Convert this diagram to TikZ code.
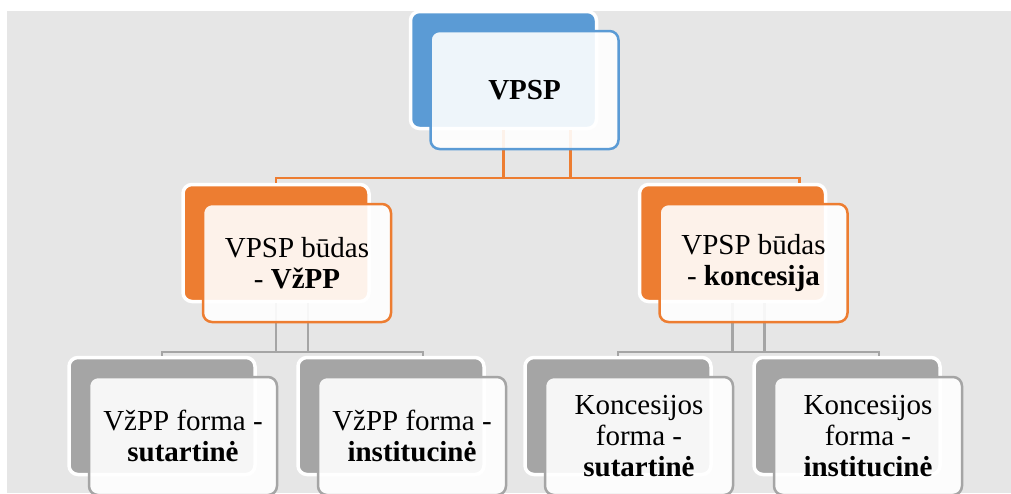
\documentclass[tikz,border=0pt]{standalone}
\usepackage{fontspec}
\setmainfont{Liberation Serif}
\usetikzlibrary{positioning}
\definecolor{vblue}{HTML}{5B9BD5}
\definecolor{vorange}{HTML}{ED7D31}
\definecolor{vgray}{HTML}{A5A5A5}
\definecolor{vbg}{HTML}{E6E6E6}
\tikzset{
  backbox/.style={draw=white, line width=3.5pt, rounded corners=9pt,
    minimum width=186pt, minimum height=117pt, inner sep=0pt},
  frontbox/.style={fill=white, fill opacity=0.9, text opacity=1,
    line width=2.5pt, rounded corners=9pt, minimum width=188pt,
    minimum height=118pt, inner sep=0pt, align=center,
    font=\fontsize{29}{31}\selectfont},
  link/.style={line width=2.5pt}
}

\begin{document}
\begin{tikzpicture}[x=1pt,y=-1pt]

  \useasboundingbox (0,0) rectangle (1011,493);
  \fill[vbg] (7,11) rectangle (1011,493);

  % back boxes
  \node[backbox, fill=vblue]   (vpspB) at (503.5,70) {};
  \node[backbox, fill=vorange] (vzppB) at (276,243) {};
  \node[backbox, fill=vorange] (koncB) at (732.5,243) {};
  \node[backbox, fill=vgray] (vsutB)  at (162,416) {};
  \node[backbox, fill=vgray] (vinstB) at (391,416) {};
  \node[backbox, fill=vgray] (ksutB)  at (618,416) {};
  \node[backbox, fill=vgray] (kinstB) at (847,416) {};

  \coordinate (obus) at (0,178);
  \coordinate (gbus) at (0,352);

  % connectors
  \draw[link, vorange] (vpspB.south) -- (vpspB.south |- obus);
  \draw[link, vorange] ([xshift=67pt]vpspB.south) -- ([xshift=67pt]vpspB.south |- obus);
  \draw[link, vorange] (vzppB.north) |- ([xshift=67pt]koncB.north |- obus)
    -- ([xshift=67pt]koncB.north);

  \draw[link, vgray] (vzppB.south) -- (vzppB.south |- gbus);
  \draw[link, vgray] ([xshift=32pt]vzppB.south) -- ([xshift=32pt]vzppB.south |- gbus);
  \draw[link, vgray] (vsutB.north) |- ([xshift=32pt]vinstB.north |- gbus)
    -- ([xshift=32pt]vinstB.north);

  \draw[link, vgray] (koncB.south) -- (koncB.south |- gbus);
  \draw[link, vgray] ([xshift=32pt]koncB.south) -- ([xshift=32pt]koncB.south |- gbus);
  \draw[link, vgray] (ksutB.north) |- ([xshift=32pt]kinstB.north |- gbus)
    -- ([xshift=32pt]kinstB.north);

  % front boxes
  \node[frontbox, draw=vblue] (vpsp) at ([shift={(21,20)}]vpspB) {\textbf{VPSP}};
  \node[frontbox, draw=vorange] (vzpp) at ([shift={(21,20)}]vzppB)
    {VPSP būdas\\- \textbf{VžPP}};
  \node[frontbox, draw=vorange] (konc) at ([shift={(21,20)}]koncB)
    {VPSP būdas\\- \textbf{koncesija}};
  \node[frontbox, draw=vgray] (vsut) at ([shift={(21,20)}]vsutB)
    {VžPP forma -\\\textbf{sutartinė}};
  \node[frontbox, draw=vgray] (vinst) at ([shift={(21,20)}]vinstB)
    {VžPP forma -\\\textbf{institucinė}};
  \node[frontbox, draw=vgray] (ksut) at ([shift={(21,20)}]ksutB)
    {Koncesijos\\forma -\\\textbf{sutartinė}};
  \node[frontbox, draw=vgray] (kinst) at ([shift={(21,20)}]kinstB)
    {Koncesijos\\forma -\\\textbf{institucinė}};

\end{tikzpicture}
\end{document}
